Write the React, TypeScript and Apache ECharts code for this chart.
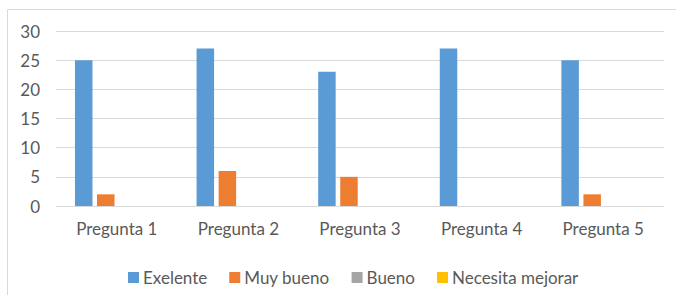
import React, { useEffect, useRef } from "react";
import * as echarts from "echarts";

const categories = ["Pregunta 1", "Pregunta 2", "Pregunta 3", "Pregunta 4", "Pregunta 5"];
const seriesNames = ["Exelente", "Muy bueno", "Bueno", "Necesita mejorar"];
const exelente = [25, 27, 23, 27, 25];
const muyBueno = [2, 6, 5, 0, 2];
const bueno = [0, 0, 0, 0, 0];
const necesitaMejorar = [0, 0, 0, 0, 0];
const colors = ["#5B9BD5", "#ED7D31", "#A5A5A5", "#FFC000"];
const yTicks = { min: 0, max: 30, interval: 5 };

export default function App() {
  const ref = useRef<HTMLDivElement>(null);
  useEffect(() => {
    const chart = echarts.init(ref.current!, undefined, { renderer: "svg" });
    const font = "Lato, 'Open Sans', sans-serif";
    const data = [exelente, muyBueno, bueno, necesitaMejorar];
    chart.setOption({
      animation: false,
      textStyle: { fontFamily: font },
      graphic: [
        {
          type: "rect",
          shape: { x: 7.5, y: 9.5, width: 720, height: 320 },
          style: { fill: "none", stroke: "#D9D9D9", lineWidth: 1 },
          silent: true,
        },
      ],
      grid: { left: 56, right: 12, top: 31, bottom: 89 },
      legend: {
        left: 123,
        top: 264,
        itemWidth: 11,
        itemHeight: 11,
        itemGap: 22,
        icon: "rect",
        textStyle: { color: "#595959", fontSize: 17, fontFamily: font, padding: [0, 0, 0, -1] },
        data: seriesNames,
      },
      xAxis: {
        type: "category",
        data: categories,
        axisTick: { show: false },
        axisLine: { lineStyle: { color: "#D9D9D9", width: 1 } },
        axisLabel: { color: "#595959", fontSize: 17, fontFamily: font, margin: 14 },
      },
      yAxis: {
        type: "value",
        min: yTicks.min,
        max: yTicks.max,
        interval: yTicks.interval,
        axisLine: { show: false },
        axisTick: { show: false },
        splitLine: { lineStyle: { color: "#D9D9D9", width: 1 } },
        axisLabel: { color: "#595959", fontSize: 17, fontFamily: font, margin: 16 },
      },
      series: seriesNames.map((name, i) => ({
        name,
        type: "bar",
        data: data[i],
        barWidth: 17.5,
        barGap: "26%",
        itemStyle: { color: colors[i] },
      })),
    });
    return () => chart.dispose();
  }, []);
  return (
    <div
      ref={ref}
      style={{ position: "absolute", left: 0, top: 0, width: 676, height: 295, background: "#fff" }}
    />
  );
}
